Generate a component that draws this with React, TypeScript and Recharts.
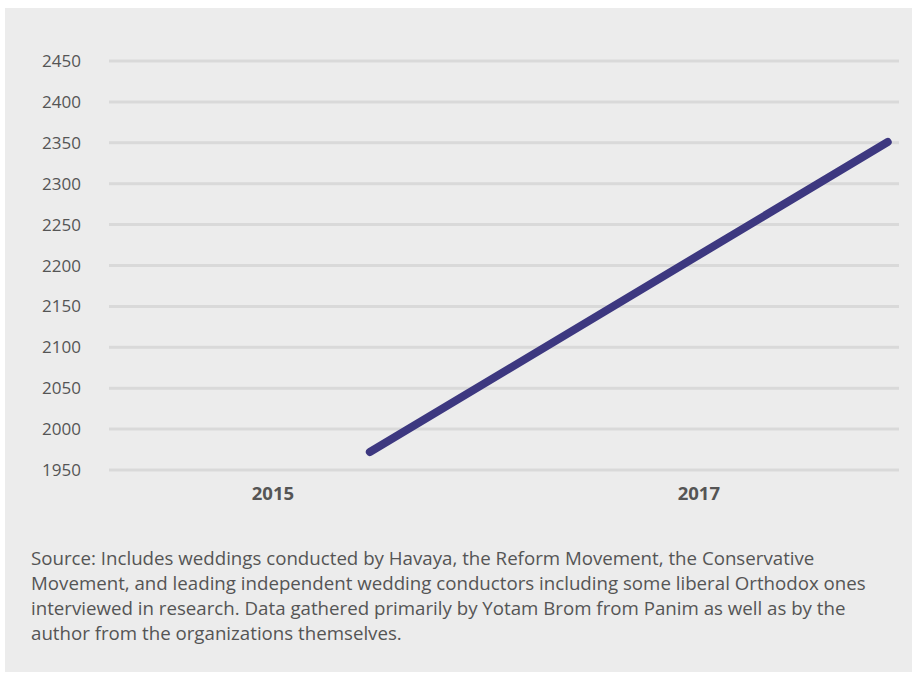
import React from 'react'
import { LineChart, Line, XAxis, YAxis, CartesianGrid } from 'recharts'

// x positions are fractional years, the line does not sit on the year ticks
const years = [2015.455, 2017.887]
const weddings = [1972, 2351]
const yearTicks = [2015, 2017]
const valueTicks = [1950, 2000, 2050, 2100, 2150, 2200, 2250, 2300, 2350, 2400, 2450]

const sourceLines = [
  'Source: Includes weddings conducted by Havaya, the Reform Movement, the Conservative',
  'Movement, and leading independent wedding conductors including some liberal Orthodox ones',
  'interviewed in research. Data gathered primarily by Yotam Brom from Panim as well as by the',
  'author from the organizations themselves.',
]

const data = years.map((year, i) => ({ year, weddings: weddings[i] }))

const FONT = '"Open Sans", "Noto Sans", sans-serif'

export default function App() {
  return (
    <div
      style={{
        position: 'absolute',
        left: 5,
        top: 8,
        width: 907,
        height: 664,
        background: '#ececec',
        fontFamily: FONT,
      }}
    >
      <LineChart width={907} height={510} data={data} margin={{ top: 53, right: 13, bottom: 8, left: 0 }}>
        <CartesianGrid vertical={false} stroke="#d9d9d9" strokeWidth={3} />
        <XAxis
          dataKey="year"
          type="number"
          domain={[2014.23, 2017.94]}
          ticks={yearTicks}
          allowDataOverflow
          axisLine={false}
          tickLine={false}
          tickSize={0}
          tickMargin={17}
          height={40}
          tick={{ fill: '#555', fontSize: 18.5, fontWeight: 700, fontFamily: FONT }}
        />
        <YAxis
          domain={[1950, 2450]}
          ticks={valueTicks}
          interval={0}
          axisLine={false}
          tickLine={false}
          tickSize={0}
          tickMargin={28}
          width={104}
          tick={{ fill: '#555', fontSize: 17, fontFamily: FONT }}
        />
        <Line
          dataKey="weddings"
          stroke="#3d3880"
          strokeWidth={8}
          strokeLinecap="round"
          dot={false}
          isAnimationActive={false}
        />
      </LineChart>
      <div
        style={{
          position: 'absolute',
          left: 26,
          top: 537,
          fontSize: 18.7,
          lineHeight: '25px',
          color: '#555',
          whiteSpace: 'nowrap',
        }}
      >
        {sourceLines.map((line) => (
          <div key={line}>{line}</div>
        ))}
      </div>
    </div>
  )
}
